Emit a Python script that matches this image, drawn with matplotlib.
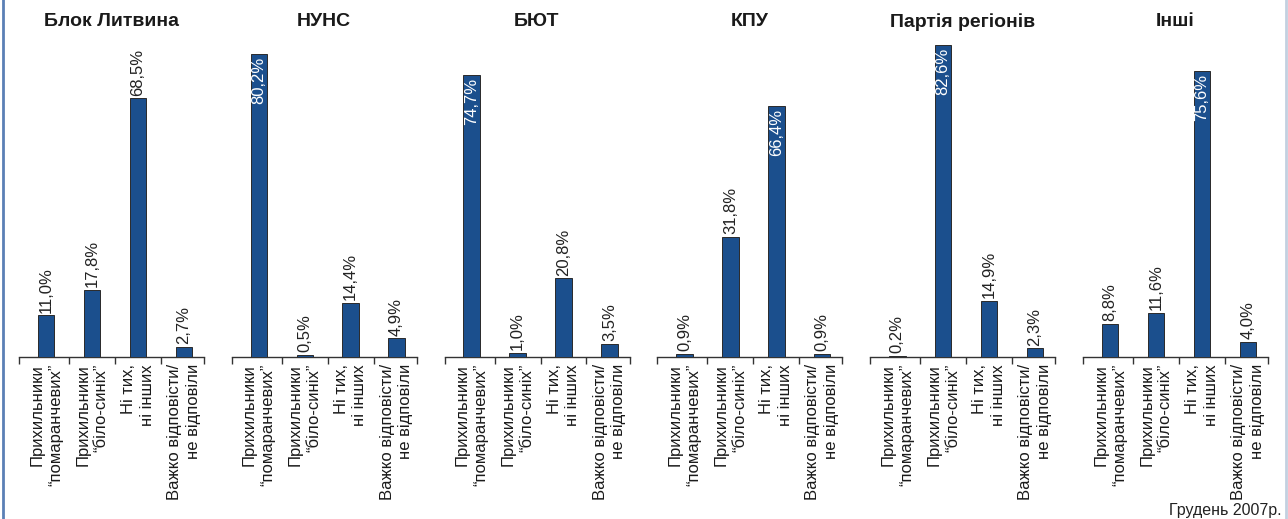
import matplotlib
matplotlib.use('Agg')
import matplotlib.pyplot as plt
from matplotlib.lines import Line2D

parties = ['Блок Литвина', 'НУНС', 'БЮТ', 'КПУ', 'Партія регіонів', 'Інші']
groups = ['Прихильники\n\u201cпомаранчевих\u201d',
          'Прихильники\n\u201cбіло-синіх\u201d',
          'Ні тих,\nні інших',
          'Важко відповісти/\nне відповіли']
values = [
    [11.0, 17.8, 68.5, 2.7],
    [80.2, 0.5, 14.4, 4.9],
    [74.7, 1.0, 20.8, 3.5],
    [0.9, 31.8, 66.4, 0.9],
    [0.2, 82.6, 14.9, 2.3],
    [8.8, 11.6, 75.6, 4.0],
]
# which bar of each panel carries its label inside the bar
inside_idx = [None, 0, 0, 2, 1, 2]
note = 'Грудень 2007р.'

BAR = '#1b4f8d'
W, H = 1288, 519
NARROW = ['Liberation Sans Narrow', 'Liberation Sans', 'DejaVu Sans']
REGULAR = ['Liberation Sans', 'DejaVu Sans']

fig = plt.figure(figsize=(W / 100, H / 100), dpi=100)

for i, party in enumerate(parties):
    left = 19 + 212.8 * i
    ax = fig.add_axes([left / W, (H - 357) / H, 185 / W, 321 / H])
    xs = list(range(len(groups)))
    ax.bar(xs, values[i], width=0.36, color=BAR, edgecolor='#2a2a2a', linewidth=0.7, zorder=3)
    ax.set_xlim(-0.59, 3.44)
    ax.set_ylim(0, 85)
    for s in ['top', 'left', 'right']:
        ax.spines[s].set_visible(False)
    ax.spines['bottom'].set_color('#333333')
    ax.spines['bottom'].set_linewidth(1.0)
    ax.set_yticks([])
    ax.set_xticks([])
    ax.set_xticks([-0.59, 0.5, 1.5, 2.5, 3.44], minor=True)
    ax.tick_params(axis='x', which='minor', direction='out', length=5, width=1, color='#333333')
    ax.patch.set_alpha(0)

    for j, v in enumerate(values[i]):
        txt = f'{v:.1f}%'.replace('.', ',')
        if inside_idx[i] == j:
            ax.annotate(txt, (j, v), xytext=(0, -2), textcoords='offset points',
                        rotation=90, ha='center', va='top', color='white',
                        fontsize=12, family=NARROW)
        else:
            ax.annotate(txt, (j, v), xytext=(0, 2), textcoords='offset points',
                        rotation=90, ha='center', va='bottom', color='#222222',
                        fontsize=12, family=NARROW)
        ax.annotate(groups[j], (j, 0), xytext=(0, -5), textcoords='offset points',
                    rotation=90, ha='center', va='top', multialignment='right',
                    fontsize=12, family=REGULAR, color='#1a1a1a', linespacing=1.3,
                    annotation_clip=False)

    fig.text((left + 92) / W, 1 - 22 / H, party, ha='center', va='center',
             fontsize=14, fontweight='bold', family=REGULAR, color='#1a1a1a')

fig.text(1282 / W, 1 - 510 / H, note, ha='right', va='center', fontsize=11.5,
         family=NARROW, color='#222222')

fig.add_artist(Line2D([3 / W, 3 / W], [0, 1], transform=fig.transFigure,
                      color='#5b80b6', linewidth=2))
fig.add_artist(Line2D([1285.5 / W, 1285.5 / W], [0, 1], transform=fig.transFigure,
                      color='#c3d0e0', linewidth=2))

fig.savefig('out.png', dpi=100)
